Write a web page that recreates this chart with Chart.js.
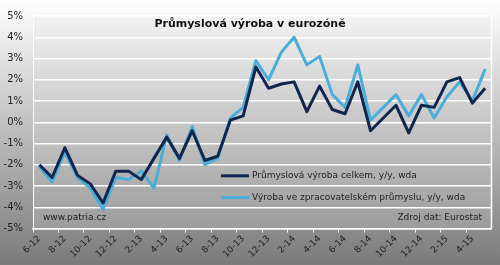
<!DOCTYPE html>
<html>
<head>
<meta charset="utf-8">
<script src="https://cdn.jsdelivr.net/npm/chart.js@4"></script>
<style>
  html, body { margin: 0; padding: 0; background: #fff; }
  canvas { display: block; }
</style>
</head>
<body>
<canvas id="vyrobaChart" width="500" height="265"></canvas>
<script>
const months = ['6-12', '7-12', '8-12', '9-12', '10-12', '11-12', '12-12',
    '1-13', '2-13', '3-13', '4-13', '5-13', '6-13', '7-13', '8-13', '9-13', '10-13', '11-13', '12-13',
    '1-14', '2-14', '3-14', '4-14', '5-14', '6-14', '7-14', '8-14', '9-14', '10-14', '11-14', '12-14',
    '1-15', '2-15', '3-15', '4-15', '5-15'];
const celkem = [-2.0, -2.6, -1.2, -2.5, -2.9, -3.8, -2.3, -2.3, -2.7, -1.7, -0.7, -1.7, -0.4, -1.8, -1.6,
    0.1, 0.3, 2.6, 1.6, 1.8, 1.9, 0.5, 1.7, 0.6, 0.4, 1.9, -0.4, 0.2, 0.8, -0.5, 0.8, 0.7, 1.9, 2.1, 0.9, 1.6];
const zpracovatelsky = [-2.1, -2.8, -1.4, -2.6, -3.1, -4.1, -2.6, -2.7, -2.3, -3.1, -0.6, -1.8, -0.2, -2.0, -1.7,
    0.2, 0.7, 2.9, 2.0, 3.3, 4.0, 2.7, 3.1, 1.3, 0.7, 2.7, 0.1, 0.7, 1.3, 0.3, 1.3, 0.2, 1.2, 1.9, 1.0, 2.5];
const seriesNames = ['Průmyslová výroba celkem, y/y, wda', 'Výroba ve zpracovatelském průmyslu, y/y, wda'];
const seriesColors = ['#10264e', '#4aaed8'];

const FONT = '"DejaVu Sans", Verdana, sans-serif';

const pozadi = {
    id: 'pozadi',
    beforeDraw(chart) {
        const c = chart.ctx, a = chart.chartArea;
        let g = c.createLinearGradient(0, 0, 0, chart.height);
        g.addColorStop(0, '#ffffff');
        g.addColorStop(1, '#7a7a7a');
        c.save();
        c.fillStyle = g;
        c.fillRect(0, 0, chart.width, chart.height);
        g = c.createLinearGradient(0, a.top, 0, a.bottom);
        g.addColorStop(0, '#f2f2f2');
        g.addColorStop(1, '#9c9c9c');
        c.fillStyle = g;
        c.fillRect(a.left, a.top, a.right - a.left, a.bottom - a.top);
        c.restore();
    },
    afterDraw(chart) {
        const c = chart.ctx, a = chart.chartArea, y = chart.scales.y;
        c.save();
        c.strokeStyle = '#ffffff';
        c.lineWidth = 1.5;
        c.beginPath();
        c.moveTo(a.right, a.top);
        c.lineTo(a.right, a.bottom);
        c.stroke();

        c.fillStyle = '#111';
        c.font = 'bold 11px ' + FONT;
        c.textAlign = 'center';
        c.textBaseline = 'middle';
        c.fillText('Průmyslová výroba v eurozóně', 250, 24);

        c.font = '9px ' + FONT;
        c.fillStyle = '#222';
        c.textAlign = 'left';
        const rows = [-2.52, -3.54];
        chart.data.datasets.forEach((ds, i) => {
            const py = y.getPixelForValue(rows[i]);
            c.strokeStyle = ds.borderColor;
            c.lineWidth = 3;
            c.beginPath();
            c.moveTo(221, py);
            c.lineTo(249, py);
            c.stroke();
            c.fillText(ds.label, 252, py);
        });
        const py = y.getPixelForValue(-4.5);
        c.fillText('www.patria.cz', 43, py);
        c.textAlign = 'right';
        c.fillText('Zdroj dat: Eurostat', 482, py);
        c.restore();
    }
};

new Chart(document.getElementById('vyrobaChart'), {
    type: 'line',
    data: {
        labels: months,
        datasets: [
            { label: seriesNames[0], data: celkem, borderColor: seriesColors[0] },
            { label: seriesNames[1], data: zpracovatelsky, borderColor: seriesColors[1] }
        ]
    },
    options: {
        responsive: false,
        animation: false,
        layout: { padding: { top: 11.5, right: 8.5, left: 0, bottom: 0 } },
        elements: {
            line: { borderWidth: 3, tension: 0, borderJoinStyle: 'round' },
            point: { radius: 0 }
        },
        plugins: {
            legend: { display: false },
            title: { display: false },
            tooltip: { enabled: false }
        },
        scales: {
            x: {
                offset: true,
                afterFit(scale) { scale.height = 36.5; },
                grid: {
                    offset: true,
                    drawOnChartArea: false,
                    drawTicks: true,
                    tickLength: 4,
                    tickColor: ctx => (ctx.index % 2 === 0 ? '#ffffff' : 'rgba(0,0,0,0)'),
                    lineWidth: 1
                },
                border: { color: '#ffffff', width: 1.5 },
                ticks: {
                    autoSkip: false,
                    minRotation: 45,
                    maxRotation: 45,
                    padding: 1,
                    color: '#222',
                    font: { family: FONT, size: 9 },
                    callback: (v, i) => (i % 2 === 0 ? months[i] : '')
                }
            },
            y: {
                min: -5,
                max: 5,
                afterFit(scale) { scale.width = 33; },
                grid: { color: '#ffffff', lineWidth: 1.5, drawTicks: false },
                border: { color: '#ffffff', width: 1 },
                ticks: {
                    stepSize: 1,
                    padding: 10,
                    color: '#222',
                    font: { family: FONT, size: 10 },
                    callback: v => v + '%'
                }
            }
        }
    },
    plugins: [pozadi]
});
</script>
</body>
</html>
